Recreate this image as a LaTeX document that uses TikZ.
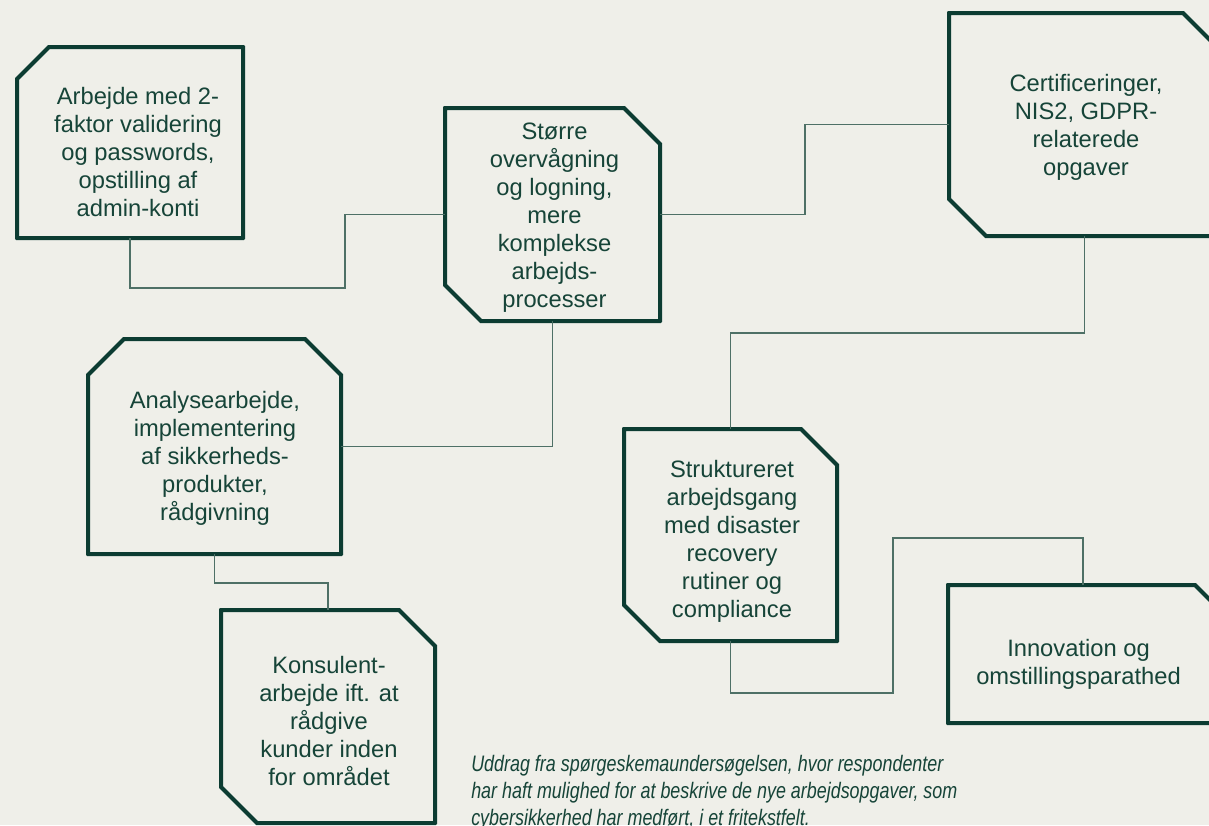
\documentclass[tikz,border=0pt]{standalone}
\usepackage{fontspec}
\setmainfont{Liberation Sans}
\newfontfamily\notefont{Liberation Sans}[FakeStretch=0.8]
\usepackage{tikz}
\usetikzlibrary{positioning}
\definecolor{paper}{RGB}{239,239,233}
\definecolor{boxgreen}{RGB}{12,60,50}
\definecolor{inkgreen}{RGB}{22,68,56}
\definecolor{linkgreen}{RGB}{78,112,102}
\tikzset{
	%Define style for box areas
	snipbox/.style={
		rectangle,
		fill=paper,
		inner sep=0pt, outer sep=0pt},
	%Define style for the snipped frames
	frame/.style={
		draw=boxgreen, line width=3pt},
	%Define style for box texts
	boxtxt/.style={
		text=inkgreen,
		align=center,
		inner sep=0pt,
		font=\fontsize{17.8}{21}\selectfont},
	% Define connector style
	link/.style={
		draw=linkgreen,
		line width=1pt}
}
% frame of a box: node, snip at nw, ne, se, sw
\newcommand{\snipframe}[5]{%
	\draw[frame] ([xshift=#2]#1.north west) -- ([xshift=-#3]#1.north east)
		-- ([yshift=-#3]#1.north east) -- ([yshift=#4]#1.south east)
		-- ([xshift=-#4]#1.south east) -- ([xshift=#5]#1.south west)
		-- ([yshift=#5]#1.south west) -- ([yshift=-#2]#1.north west) -- cycle;}
\begin{document}
\begin{tikzpicture}[x=0.75pt,y=-0.75pt]
	\fill[paper] (0,0) rectangle (1209,825);
	\useasboundingbox (0,0) rectangle (1209,825);
	% boxes
	\node[snipbox,minimum width=169.5pt,minimum height=143.25pt] (twofa) at (130,142.5) {};
	\node[snipbox,minimum width=161.25pt,minimum height=159.75pt] (overv) at (552.5,214.5) {};
	\node[snipbox,minimum width=203.25pt,minimum height=167.25pt] (cert) at (1084.5,124.5) {};
	\node[snipbox,minimum width=189.75pt,minimum height=161.25pt] (analyse) at (214.5,446.5) {};
	\node[snipbox,minimum width=159.75pt,minimum height=159pt] (struk) at (730.5,535) {};
	\node[snipbox,minimum width=202.5pt,minimum height=103.5pt] (innov) at (1083,654) {};
	\node[snipbox,minimum width=160.5pt,minimum height=159.75pt] (konsul) at (328,716.5) {};
	\snipframe{twofa}{24pt}{0.01pt}{0.01pt}{0.01pt}
	\snipframe{overv}{0.01pt}{27pt}{0.01pt}{27pt}
	\snipframe{cert}{0.01pt}{27.75pt}{0.01pt}{27.75pt}
	\snipframe{analyse}{27pt}{27pt}{0.01pt}{0.01pt}
	\snipframe{struk}{0.01pt}{27pt}{0.01pt}{27pt}
	\snipframe{innov}{0.01pt}{17.25pt}{0.01pt}{0.01pt}
	\snipframe{konsul}{0.01pt}{27pt}{0.01pt}{27pt}
	% texts
	\node[boxtxt] (twofa-t) at ([shift={(8,10)}]twofa.center)
		{Arbejde med 2-\\faktor validering\\og passwords,\\opstilling af\\admin-konti};
	\node[boxtxt] (overv-t) at ([shift={(2,3)}]overv.center)
		{Større\\overvågning\\og logning,\\mere\\komplekse\\arbejds-\\processer};
	\node[boxtxt] (cert-t) at ([shift={(1.5,2.5)}]cert.center)
		{Certificeringer,\\NIS2, GDPR-\\relaterede\\opgaver};
	\node[boxtxt] (analyse-t) at ([shift={(0.5,11.5)}]analyse.center)
		{Analysearbejde,\\implementering\\af sikkerheds-\\produkter,\\rådgivning};
	\node[boxtxt] (struk-t) at ([shift={(1.5,6)}]struk.center)
		{Struktureret\\arbejdsgang\\med disaster\\recovery\\rutiner og\\compliance};
	\node[boxtxt] (innov-t) at ([shift={(-4.5,10.5)}]innov.center)
		{Innovation og\\omstillingsparathed};
	\node[boxtxt] (konsul-t) at ([shift={(1,4.5)}]konsul.center)
		{Konsulent-\\arbejde ift. at\\rådgive\\kunder inden\\for området};
	\node[text=inkgreen,align=left,inner sep=0pt,anchor=north west,
		font=\notefont\itshape\fontsize{16.8}{20.4}\selectfont] (note) at (471,755)
		{Uddrag fra spørgeskemaundersøgelsen, hvor respondenter\\
		 har haft mulighed for at beskrive de nye arbejdsopgaver, som\\
		 cybersikkerhed har medført, i et fritekstfelt.};
	% connectors
	\draw[link] (twofa.south) |- (345,288) |- (overv.west);
	\draw[link] (overv.east) -| (805,170) |- (cert.west);
	\draw[link] (cert.south) |- (900,333) -| (struk.north);
	\draw[link] (overv.south) |- (analyse.east);
	\draw[link] (analyse.south) |- (280,583) -| (konsul.north);
	\draw[link] (struk.south) |- (893,693) |- (1000,538) -| (innov.north);
\end{tikzpicture}
\end{document}
